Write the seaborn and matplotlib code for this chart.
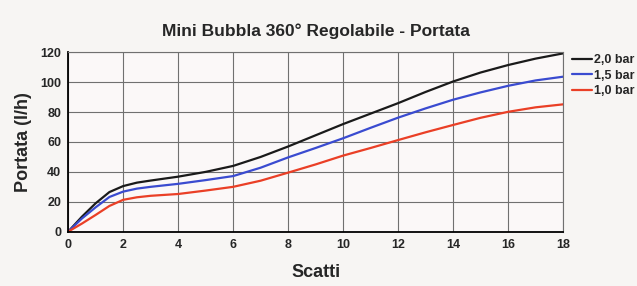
import matplotlib
matplotlib.use("Agg")
import matplotlib.pyplot as plt
import pandas as pd
import seaborn as sns

# Portata vs scatti
scatti = [0, 0.5, 1, 1.5, 2, 2.5, 3, 4, 5, 6, 7, 8, 9, 10, 11, 12, 13, 14, 15, 16, 17, 18]
portata_20 = [0, 10, 19, 26.5, 30.5, 32.8, 34.2, 36.8, 40, 44, 50, 57, 64.5, 72, 79, 86, 93.5, 100.5, 106.5, 111.5, 115.8, 119.3]
portata_15 = [0, 8.8, 16.3, 23.2, 26.8, 28.8, 30, 32, 34.5, 37.2, 42.8, 49.7, 56, 62.5, 69.5, 76.3, 82.5, 88.3, 93.2, 97.6, 101.2, 103.7]
portata_10 = [0, 5.4, 11.2, 17.2, 21.3, 23, 24, 25.2, 27.5, 30, 34.1, 39.5, 45, 50.9, 56, 61.3, 66.5, 71.4, 76.2, 80.2, 83.2, 85.2]
serie = ["2,0 bar", "1,5 bar", "1,0 bar"]
colori = ["#1a1a1a", "#3a4bd0", "#ea3f26"]
x_ticks = list(range(0, 19, 2))
y_ticks = list(range(0, 121, 20))

df = pd.DataFrame({
    "scatti": scatti * 3,
    "portata": portata_20 + portata_15 + portata_10,
    "pressione": [serie[0]] * len(scatti) + [serie[1]] * len(scatti) + [serie[2]] * len(scatti),
})

sns.set_style("white")
plt.rcParams["font.family"] = ["Liberation Sans", "DejaVu Sans"]
plt.rcParams["font.weight"] = "bold"

fig = plt.figure(figsize=(6.37, 2.86), dpi=100, facecolor="#f7f5f3")
ax = fig.add_axes([0.107, 0.19, 0.777, 0.627])
ax.set_facecolor("#fbf8f8")

sns.lineplot(data=df, x="scatti", y="portata", hue="pressione",
             palette=dict(zip(serie, colori)), linewidth=1.6, ax=ax)

ax.set_xlim(0, 18)
ax.set_ylim(0, 120)
ax.set_xticks(x_ticks)
ax.set_yticks(y_ticks)
ax.grid(True, color="#707070", linewidth=0.8)
for s in ["top", "right"]:
    ax.spines[s].set_color("#707070")
    ax.spines[s].set_linewidth(0.8)
for s in ["left", "bottom"]:
    ax.spines[s].set_color("black")
    ax.spines[s].set_linewidth(1.3)
ax.tick_params(axis="both", length=3, width=1, color="black", labelsize=9, pad=2)
for lab in ax.get_xticklabels() + ax.get_yticklabels():
    lab.set_fontweight("bold")

ax.set_xlabel("Scatti", fontsize=13, fontweight="bold", labelpad=10)
ax.set_ylabel("Portata (l/h)", fontsize=13, fontweight="bold", labelpad=6)
ax.set_title("Mini Bubbla 360° Regolabile - Portata", fontsize=12.5, fontweight="bold", pad=12)

ax.legend(loc="upper left", bbox_to_anchor=(1.0, 1.04), frameon=False,
          handlelength=1.6, handletextpad=0.2, labelspacing=0.3,
          prop={"weight": "bold", "size": 9}, borderaxespad=0.3)

fig.savefig("out.png", dpi=100, facecolor=fig.get_facecolor())
